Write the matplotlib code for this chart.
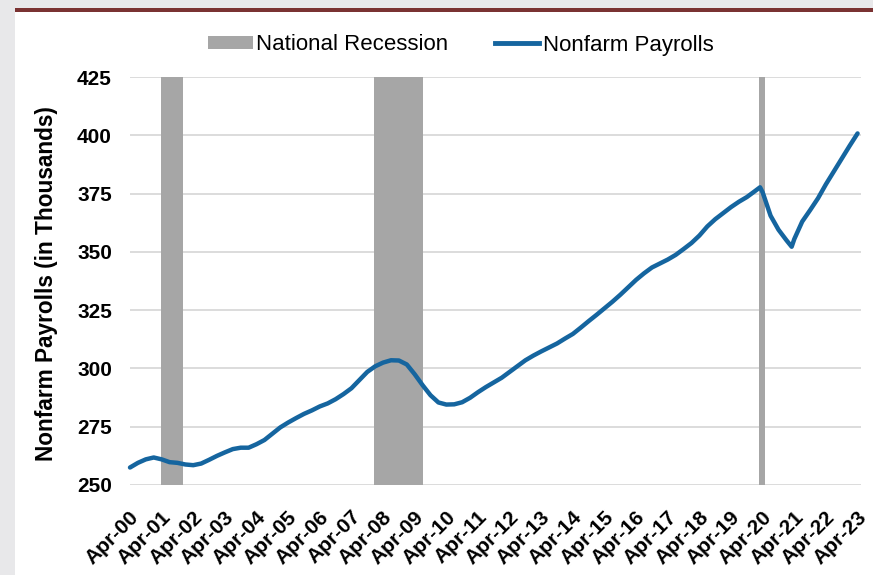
import matplotlib.pyplot as plt
from matplotlib.patches import Rectangle, Patch
from matplotlib.lines import Line2D
from matplotlib.transforms import ScaledTranslation

plt.rcParams['font.family'] = ['Liberation Sans', 'DejaVu Sans']

# Nonfarm payrolls (thousands), sampled quarterly from Apr-2000 plus the 2020/2021 turning points
# month = months since Apr-2000
months = [0, 3, 6, 9, 12, 15, 18, 21, 24, 27, 30, 33, 36, 39, 42, 45,
          48, 51, 54, 57, 60, 63, 66, 69, 72, 75, 78, 81, 84, 87, 90, 93,
          96, 99, 102, 105, 108, 111, 114, 117, 120, 123, 126, 129, 132, 135, 138, 141,
          144, 147, 150, 153, 156, 159, 162, 165, 168, 171, 174, 177, 180, 183, 186, 189,
          192, 195, 198, 201, 204, 207, 210, 213, 216, 219, 222, 225, 228, 231, 234, 237,
          239, 240, 243, 246, 249, 251, 252, 255, 258, 261, 264, 267, 270, 273, 276]
payrolls = [257.5, 259.5, 261.0, 261.8, 261.0, 259.8, 259.5, 258.8, 258.5, 259.2, 260.8, 262.5, 264.0, 265.4, 266.0, 266.0,
            267.5, 269.3, 272.0, 274.7, 276.8, 278.7, 280.5, 282.0, 283.7, 285.0, 286.8, 289.0, 291.5, 295.0, 298.5, 300.9,
            302.5, 303.5, 303.4, 301.7, 297.5, 292.8, 288.5, 285.4, 284.5, 284.6, 285.5, 287.4, 289.8, 292.0, 294.0, 296.0,
            298.5, 301.0, 303.5, 305.5, 307.3, 309.0, 310.7, 312.8, 314.8, 317.5, 320.3, 323.0, 325.8, 328.6, 331.6, 334.8,
            338.0, 340.8, 343.3, 345.0, 346.7, 348.7, 351.2, 353.8, 357.0, 360.9, 364.0, 366.6, 369.2, 371.5, 373.5, 376.0,
            377.7, 375.5, 365.5, 359.5, 355.0, 352.2, 355.5, 363.0, 367.9, 373.0, 379.0, 384.5, 390.0, 395.5, 400.8]

# recession start / end months (months since Apr-2000)
recession_start = [11, 92, 238]
recession_end = [19, 110, 240]

tick_months = list(range(0, 277, 12))
tick_labels = ['Apr-%02d' % (y % 100) for y in range(2000, 2024)]
y_ticks = [250, 275, 300, 325, 350, 375, 400, 425]

line_color = '#15659f'
bar_color = '#a6a6a6'

fig = plt.figure(figsize=(8.73, 5.75), dpi=100)
fig.patch.set_facecolor('#e8e8ea')
# white panel and maroon rule along the top
fig.patches.append(Rectangle((15 / 873, 0), 1, 1 - 9 / 575, transform=fig.transFigure,
                             facecolor='white', edgecolor='none', zorder=-2))
fig.patches.append(Rectangle((15 / 873, 1 - 12 / 575), 1, 3.5 / 575, transform=fig.transFigure,
                             facecolor='#7a3232', edgecolor='none', zorder=-1))

ax = fig.add_axes([130 / 873, 1 - 485 / 575, 731 / 873, 408 / 575])
ax.set_facecolor('none')

for s, e in zip(recession_start, recession_end):
    ax.axvspan(s + 0.6, e + 1.0, color=bar_color, lw=0, zorder=1)

ax.plot(months, payrolls, color=line_color, lw=3.2, zorder=3, clip_on=False,
        solid_capstyle='round', solid_joinstyle='round')

ax.set_ylim(250, 425)
ax.set_xlim(0.4, 277.3)
ax.set_yticks(y_ticks)
ax.yaxis.grid(True, color='#d9d9d9', lw=1.3)
ax.set_axisbelow(True)
for sp in ax.spines.values():
    sp.set_visible(False)
ax.tick_params(axis='both', length=0)
ax.tick_params(axis='y', pad=13, labelsize=15)
for lbl in ax.get_yticklabels():
    lbl.set_fontweight('bold')

ax.set_xticks(tick_months)
ax.set_xticklabels(tick_labels, rotation=45, ha='right', va='center',
                   rotation_mode='anchor', fontsize=15, fontweight='bold')
shift = ScaledTranslation(6 / 100, -24 / 100, fig.dpi_scale_trans)
for lbl in ax.get_xticklabels():
    lbl.set_transform(lbl.get_transform() + shift)

fig.text(47 / 873, 1 - 284 / 575, 'Nonfarm Payrolls (in Thousands)', rotation=90,
         ha='center', va='center', fontsize=16.3, fontweight='bold')

handles = [Patch(facecolor=bar_color, edgecolor='none'),
           Line2D([], [], color=line_color, lw=3.5)]
fig.legend(handles, ['National Recession', 'Nonfarm Payrolls'], ncol=2, frameon=False,
           loc='center', bbox_to_anchor=(461 / 873, 1 - 45 / 575), fontsize=16,
           handlelength=2.0, handleheight=0.55, handletextpad=0.15, columnspacing=2.1)

fig.savefig('out.png', dpi=100)
